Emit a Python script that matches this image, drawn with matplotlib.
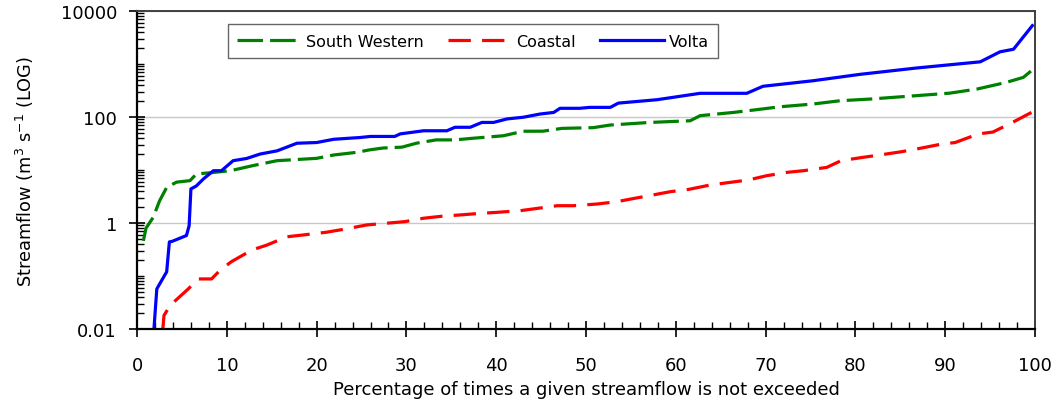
import matplotlib
matplotlib.use("Agg")
import matplotlib.pyplot as plt
from matplotlib.ticker import FixedLocator, FixedFormatter, LogLocator, MultipleLocator, NullFormatter

plt.rcParams['font.family'] = ['DejaVu Sans']
plt.rcParams['mathtext.fontset'] = 'dejavusans'

# ---- data (percentage of time not exceeded, streamflow m3/s) ----
volta_x = [1.9, 2.2, 2.5, 3.3, 3.6, 3.9, 5.5, 5.8, 6.0, 6.6, 7.4, 8.5, 9.4, 10.7, 12.2,
           13.7, 15.6, 17.8, 20.0, 21.9, 24.8, 26.0, 28.7, 29.3, 31.9, 34.5, 35.4, 37.1,
           38.4, 39.7, 41.2, 43.0, 44.9, 46.4, 47.1, 49.3, 50.4, 52.7, 53.6, 57.9, 62.7,
           67.9, 69.7, 75.3, 80.5, 86.8, 93.9, 96.1, 97.6, 98.5, 99.7]
volta_y = [0.011, 0.057, 0.07, 0.12, 0.44, 0.45, 0.58, 0.89, 4.4, 5.0, 6.8, 9.7, 9.7, 15,
           16.5, 20, 23, 32, 33, 38, 41, 43, 43, 48, 55, 55, 64, 64, 79, 79, 92, 99, 114,
           122, 146, 146, 152, 152, 183, 212, 280, 280, 380, 484, 638, 841, 1100, 1700,
           1900, 2950, 5300]

sw_x = [0.7, 1.0, 1.8, 2.5, 3.3, 4.4, 5.9, 6.6, 8.5, 10.4, 12.9, 15.6, 20.0, 21.9, 24.5,
        25.9, 27.4, 29.5, 31.1, 33.3, 35.4, 37.3, 40.8, 43.0, 45.2, 47.3, 50.8, 52.7,
        57.1, 61.6, 62.7, 66.4, 68.6, 71.6, 75.3, 78.3, 81.6, 86.8, 90.5, 93.5, 96.8,
        98.7, 99.6]
sw_y = [0.46, 0.8, 1.28, 2.6, 4.7, 5.9, 6.3, 8.4, 9.0, 9.7, 12.1, 15, 16.6, 19.2, 21.6,
        24, 26, 27, 32, 37, 37, 39.6, 44.3, 53.9, 54, 61, 63, 70.6, 79, 85, 106, 122, 135,
        156, 176, 203, 218, 253, 282, 336, 450, 560, 750]

coastal_x = [2.85, 3.0, 3.7, 5.7, 6.8, 8.3, 9.2, 10.5, 12.8, 14.4, 16.7, 18.7, 21.1, 23.2,
             25.6, 29.8, 31.9, 33.9, 36.0, 38.2, 40.1, 42.7, 44.6, 46.8, 48.6, 51.2, 53.4,
             55.3, 57.1, 59.4, 61.4, 63.8, 65.9, 68.1, 70.1, 72.3, 74.2, 76.8, 78.4, 80.9,
             82.7, 85.1, 86.8, 89.4, 91.1, 93.7, 95.3, 97.6, 99.6]
coastal_y = [0.009, 0.018, 0.028, 0.057, 0.088, 0.088, 0.126, 0.186, 0.31, 0.38, 0.55, 0.60,
             0.67, 0.77, 0.92, 1.06, 1.23, 1.34, 1.42, 1.52, 1.59, 1.71, 1.89, 2.12, 2.12,
             2.28, 2.52, 2.9, 3.3, 3.9, 4.3, 5.2, 5.8, 6.5, 7.8, 9.0, 9.7, 11.2, 15, 17.4,
             19.2, 22.1, 24.9, 30.4, 33, 48, 52, 81, 122]

y_ticks = [0.01, 1, 100, 10000]
y_tick_labels = ["0.01", "1", "100", "10000"]
x_ticks = [0, 10, 20, 30, 40, 50, 60, 70, 80, 90, 100]

fig = plt.figure(figsize=(10.55, 4.06), dpi=100)
ax = fig.add_axes([0.1299, 0.1872, 0.8512, 0.7832])

ax.plot(sw_x, sw_y, color='#008000', lw=2.3, dashes=[8, 2.2], label='South Western')
ax.plot(coastal_x, coastal_y, color='#ff0000', lw=2.3, dashes=[7, 3.5], label='Coastal')
ax.plot(volta_x, volta_y, color='#0000ff', lw=2.3, label='Volta')

ax.set_yscale('log')
ax.set_ylim(0.01, 10000)
ax.set_xlim(0, 100)

ax.yaxis.set_major_locator(FixedLocator(y_ticks))
ax.yaxis.set_major_formatter(FixedFormatter(y_tick_labels))
ax.yaxis.set_minor_locator(LogLocator(base=10, subs=[1, 2, 3, 4, 5, 6, 7, 8, 9], numticks=50))
ax.yaxis.set_minor_formatter(NullFormatter())
ax.set_xticks(x_ticks)
ax.xaxis.set_minor_locator(MultipleLocator(2))

ax.grid(axis='y', which='major', color='#c8c8c8', lw=1.0)
ax.set_axisbelow(True)

ax.tick_params(axis='both', which='major', direction='inout', length=11, width=1.2,
               labelsize=13, colors='black')
ax.tick_params(axis='both', which='minor', direction='in', length=5, width=1.0)
ax.tick_params(axis='y', which='major', pad=9)
ax.tick_params(axis='x', which='major', pad=14)

for side in ['left', 'bottom']:
    ax.spines[side].set_linewidth(1.6)
    ax.spines[side].set_color('black')
for side in ['top', 'right']:
    ax.spines[side].set_linewidth(1.4)
    ax.spines[side].set_color('#404040')

ax.set_xlabel('Percentage of times a given streamflow is not exceeded', fontsize=13, labelpad=4)
ax.set_ylabel(r'Streamflow (m$^{3}$ s$^{-1}$ (LOG)', fontsize=12.8, labelpad=18)

leg = ax.legend(loc='upper left', bbox_to_anchor=(0.101, 0.959), borderaxespad=0, ncol=3,
                fontsize=11.5, frameon=True, fancybox=False, edgecolor='#404040',
                handlelength=4.0, columnspacing=1.5, handletextpad=0.3, borderpad=0.6)
leg.get_frame().set_linewidth(1.0)

fig.savefig('out.png', dpi=100)
